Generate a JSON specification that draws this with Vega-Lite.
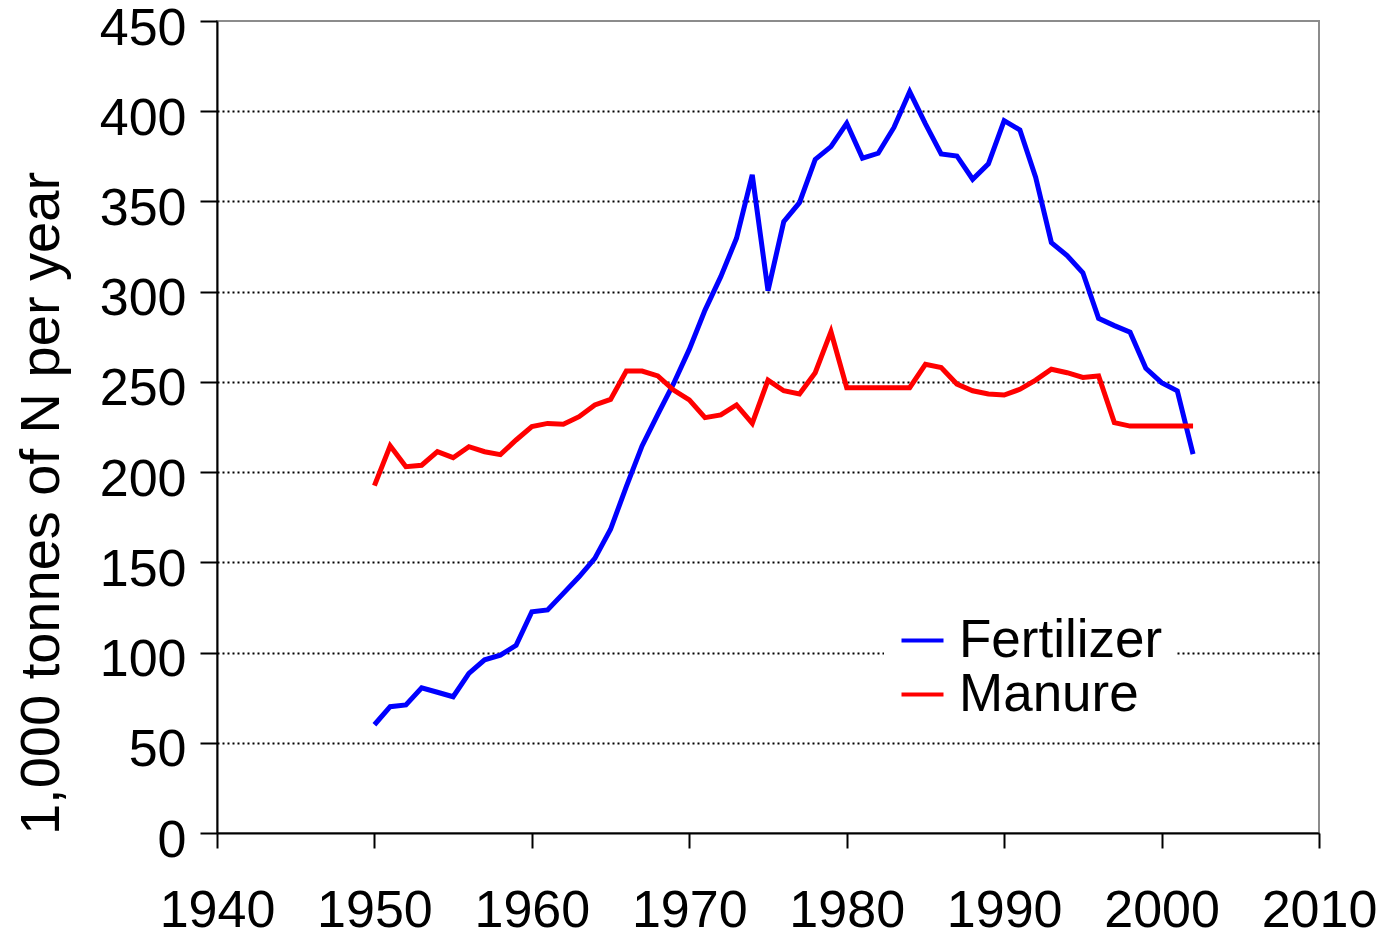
{
  "$schema": "https://vega.github.io/schema/vega-lite/v6.json",
  "width": 1102,
  "height": 812,
  "autosize": {"type": "none"},
  "padding": {"left": 217, "top": 21, "right": 71, "bottom": 105},
  "background": "white",
  "config": {
    "view": {"stroke": "#8c8c8c", "strokeWidth": 2},
    "font": "Liberation Sans",
    "axis": {
      "domainColor": "black",
      "domainWidth": 2,
      "tickColor": "black",
      "tickWidth": 2,
      "labelColor": "black",
      "labelFont": "Liberation Sans",
      "labelFontSize": 52,
      "titleColor": "black",
      "titleFont": "Liberation Sans",
      "titleFontWeight": "normal"
    }
  },
  "data": {
    "values": [
      {"year": 1950, "series": "Fertilizer", "value": 60},
      {"year": 1951, "series": "Fertilizer", "value": 70},
      {"year": 1952, "series": "Fertilizer", "value": 71},
      {"year": 1953, "series": "Fertilizer", "value": 80.5},
      {"year": 1954, "series": "Fertilizer", "value": 78},
      {"year": 1955, "series": "Fertilizer", "value": 75.5},
      {"year": 1956, "series": "Fertilizer", "value": 88.5},
      {"year": 1957, "series": "Fertilizer", "value": 96},
      {"year": 1958, "series": "Fertilizer", "value": 98.6},
      {"year": 1959, "series": "Fertilizer", "value": 104},
      {"year": 1960, "series": "Fertilizer", "value": 122.6},
      {"year": 1961, "series": "Fertilizer", "value": 123.6},
      {"year": 1962, "series": "Fertilizer", "value": 132.8},
      {"year": 1963, "series": "Fertilizer", "value": 142},
      {"year": 1964, "series": "Fertilizer", "value": 152.2},
      {"year": 1965, "series": "Fertilizer", "value": 168.3},
      {"year": 1966, "series": "Fertilizer", "value": 192},
      {"year": 1967, "series": "Fertilizer", "value": 214.5},
      {"year": 1968, "series": "Fertilizer", "value": 232},
      {"year": 1969, "series": "Fertilizer", "value": 249},
      {"year": 1970, "series": "Fertilizer", "value": 268},
      {"year": 1971, "series": "Fertilizer", "value": 289.8},
      {"year": 1972, "series": "Fertilizer", "value": 308.3},
      {"year": 1973, "series": "Fertilizer", "value": 329.6},
      {"year": 1974, "series": "Fertilizer", "value": 364.7},
      {"year": 1975, "series": "Fertilizer", "value": 300.5},
      {"year": 1976, "series": "Fertilizer", "value": 338.8},
      {"year": 1977, "series": "Fertilizer", "value": 349.3},
      {"year": 1978, "series": "Fertilizer", "value": 373.3},
      {"year": 1979, "series": "Fertilizer", "value": 380.4},
      {"year": 1980, "series": "Fertilizer", "value": 393.3},
      {"year": 1981, "series": "Fertilizer", "value": 374},
      {"year": 1982, "series": "Fertilizer", "value": 376.7},
      {"year": 1983, "series": "Fertilizer", "value": 391},
      {"year": 1984, "series": "Fertilizer", "value": 410.8},
      {"year": 1985, "series": "Fertilizer", "value": 393},
      {"year": 1986, "series": "Fertilizer", "value": 376.3},
      {"year": 1987, "series": "Fertilizer", "value": 375.2},
      {"year": 1988, "series": "Fertilizer", "value": 362.3},
      {"year": 1989, "series": "Fertilizer", "value": 370.8},
      {"year": 1990, "series": "Fertilizer", "value": 394.8},
      {"year": 1991, "series": "Fertilizer", "value": 389.6},
      {"year": 1992, "series": "Fertilizer", "value": 363.4},
      {"year": 1993, "series": "Fertilizer", "value": 327.2},
      {"year": 1994, "series": "Fertilizer", "value": 320},
      {"year": 1995, "series": "Fertilizer", "value": 310.5},
      {"year": 1996, "series": "Fertilizer", "value": 285.2},
      {"year": 1997, "series": "Fertilizer", "value": 281.2},
      {"year": 1998, "series": "Fertilizer", "value": 277.5},
      {"year": 1999, "series": "Fertilizer", "value": 257.5},
      {"year": 2000, "series": "Fertilizer", "value": 249.6},
      {"year": 2001, "series": "Fertilizer", "value": 245},
      {"year": 2002, "series": "Fertilizer", "value": 210},
      {"year": 1950, "series": "Manure", "value": 192.5},
      {"year": 1951, "series": "Manure", "value": 214.6},
      {"year": 1952, "series": "Manure", "value": 203},
      {"year": 1953, "series": "Manure", "value": 203.8},
      {"year": 1954, "series": "Manure", "value": 211.3},
      {"year": 1955, "series": "Manure", "value": 208},
      {"year": 1956, "series": "Manure", "value": 214.1},
      {"year": 1957, "series": "Manure", "value": 211.3},
      {"year": 1958, "series": "Manure", "value": 209.7},
      {"year": 1959, "series": "Manure", "value": 217.8},
      {"year": 1960, "series": "Manure", "value": 225.2},
      {"year": 1961, "series": "Manure", "value": 227},
      {"year": 1962, "series": "Manure", "value": 226.5},
      {"year": 1963, "series": "Manure", "value": 230.7},
      {"year": 1964, "series": "Manure", "value": 237.2},
      {"year": 1965, "series": "Manure", "value": 240.3},
      {"year": 1966, "series": "Manure", "value": 256},
      {"year": 1967, "series": "Manure", "value": 256},
      {"year": 1968, "series": "Manure", "value": 253.3},
      {"year": 1969, "series": "Manure", "value": 245.5},
      {"year": 1970, "series": "Manure", "value": 240},
      {"year": 1971, "series": "Manure", "value": 230.2},
      {"year": 1972, "series": "Manure", "value": 231.7},
      {"year": 1973, "series": "Manure", "value": 237.2},
      {"year": 1974, "series": "Manure", "value": 227},
      {"year": 1975, "series": "Manure", "value": 251},
      {"year": 1976, "series": "Manure", "value": 245.1},
      {"year": 1977, "series": "Manure", "value": 243.3},
      {"year": 1978, "series": "Manure", "value": 255.1},
      {"year": 1979, "series": "Manure", "value": 277.8},
      {"year": 1980, "series": "Manure", "value": 246.8},
      {"year": 1981, "series": "Manure", "value": 246.8},
      {"year": 1982, "series": "Manure", "value": 246.8},
      {"year": 1983, "series": "Manure", "value": 246.8},
      {"year": 1984, "series": "Manure", "value": 246.8},
      {"year": 1985, "series": "Manure", "value": 259.7},
      {"year": 1986, "series": "Manure", "value": 257.9},
      {"year": 1987, "series": "Manure", "value": 248.8},
      {"year": 1988, "series": "Manure", "value": 245.1},
      {"year": 1989, "series": "Manure", "value": 243.3},
      {"year": 1990, "series": "Manure", "value": 242.7},
      {"year": 1991, "series": "Manure", "value": 245.9},
      {"year": 1992, "series": "Manure", "value": 251},
      {"year": 1993, "series": "Manure", "value": 257},
      {"year": 1994, "series": "Manure", "value": 255.1},
      {"year": 1995, "series": "Manure", "value": 252.5},
      {"year": 1996, "series": "Manure", "value": 253.3},
      {"year": 1997, "series": "Manure", "value": 227.4},
      {"year": 1998, "series": "Manure", "value": 225.5},
      {"year": 1999, "series": "Manure", "value": 225.5},
      {"year": 2000, "series": "Manure", "value": 225.5},
      {"year": 2001, "series": "Manure", "value": 225.5},
      {"year": 2002, "series": "Manure", "value": 225.5}
    ]
  },
  "mark": {"type": "line", "strokeWidth": 5, "strokeJoin": "miter"},
  "encoding": {
    "x": {
      "field": "year",
      "type": "quantitative",
      "scale": {"domain": [1940, 2010], "nice": false, "zero": false},
      "axis": {
        "title": null,
        "values": [1940, 1950, 1960, 1970, 1980, 1990, 2000, 2010],
        "format": "d",
        "grid": false,
        "tickSize": 15,
        "labelPadding": 37,
        "labelFlush": false,
        "labelOverlap": false
      }
    },
    "y": {
      "field": "value",
      "type": "quantitative",
      "scale": {"domain": [0, 450], "nice": false},
      "axis": {
        "title": "1,000 tonnes of N per year",
        "titleFontSize": 56,
        "titleAngle": -90,
        "titleAlign": "center",
        "titleBaseline": "alphabetic",
        "titleX": -159,
        "titleY": 482,
        "values": [0, 50, 100, 150, 200, 250, 300, 350, 400, 450],
        "tickSize": 17,
        "labelPadding": 14,
        "labelOffset": 7,
        "labelFlush": false,
        "labelOverlap": false,
        "grid": true,
        "gridColor": "black",
        "gridDash": [2, 3],
        "gridWidth": 2,
        "gridOpacity": {"condition": {"test": "datum.value == 450 || datum.value == 0", "value": 0}, "value": 1}
      }
    },
    "color": {
      "field": "series",
      "type": "nominal",
      "scale": {"domain": ["Fertilizer", "Manure"], "range": ["#0000ff", "#ff0000"]},
      "legend": {
        "title": null,
        "orient": "none",
        "legendX": 667,
        "legendY": 581,
        "padding": 12,
        "fillColor": "white",
        "strokeColor": null,
        "symbolType": "stroke",
        "symbolSize": 1764,
        "symbolStrokeWidth": 4,
        "labelFontSize": 53,
        "labelFont": "Liberation Sans",
        "labelColor": "black",
        "labelOffset": 10,
        "rowPadding": 0,
        "labelLimit": 0
      }
    }
  }
}
